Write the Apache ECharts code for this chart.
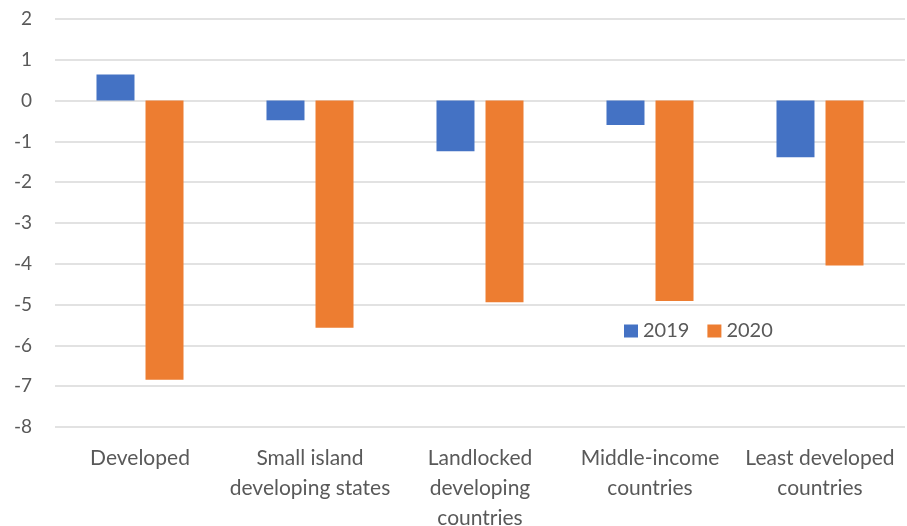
<!DOCTYPE html>
<html>
<head>
<meta charset="utf-8">
<script src="https://cdn.jsdelivr.net/npm/echarts@6/dist/echarts.min.js"></script>
<style>
  html, body { margin: 0; padding: 0; background: #fff; }
  #chart { width: 907px; height: 526px; }
</style>
</head>
<body>
<div id="chart"></div>
<script>
// 数据
const categories = [
  "Developed",
  "Small island\ndeveloping states",
  "Landlocked\ndeveloping\ncountries",
  "Middle-income\ncountries",
  "Least developed\ncountries"
];
const seriesNames = ["2019", "2020"];
const values2019 = [0.64, -0.48, -1.24, -0.60, -1.39];
const values2020 = [-6.84, -5.57, -4.94, -4.91, -4.04];

const textColor = "#595959";
const fontFamily = "Lato, 'Open Sans', sans-serif";

const chart = echarts.init(document.getElementById("chart"));
chart.setOption({
  animation: false,
  textStyle: { fontFamily: fontFamily },
  grid: { left: 55, right: 2, top: 19, bottom: 99, outerBoundsMode: "none", containLabel: false },
  legend: {
    data: seriesNames,
    left: 619,
    top: 316,
    icon: "rect",
    itemWidth: 14,
    itemHeight: 13,
    itemGap: 18,
    textStyle: { color: textColor, fontSize: 20, fontFamily: fontFamily }
  },
  xAxis: {
    type: "category",
    data: categories,
    position: "bottom",
    axisLine: { show: false, onZero: false },
    axisTick: { show: false },
    axisLabel: {
      color: textColor,
      fontSize: 21,
      lineHeight: 30,
      margin: 16,
      interval: 0
    }
  },
  yAxis: {
    type: "value",
    min: -8,
    max: 2,
    interval: 1,
    axisLine: { show: false },
    axisTick: { show: false },
    axisLabel: { color: textColor, fontSize: 19, margin: 23 },
    splitLine: { lineStyle: { color: "#d9d9d9", width: 1.5 } }
  },
  series: [
    {
      name: seriesNames[0],
      type: "bar",
      data: values2019,
      barWidth: 38,
      barGap: "29%",
      itemStyle: { color: "#4472c4" }
    },
    {
      name: seriesNames[1],
      type: "bar",
      data: values2020,
      barWidth: 38,
      itemStyle: { color: "#ed7d31" }
    }
  ]
});
</script>
</body>
</html>
